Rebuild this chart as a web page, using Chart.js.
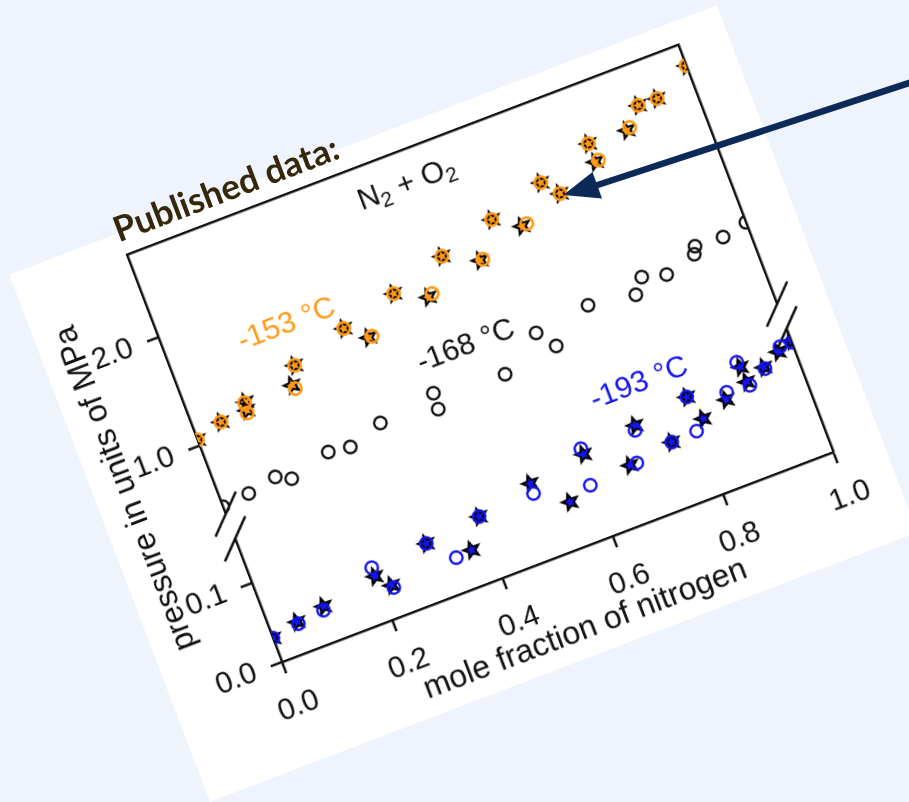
<!DOCTYPE html>
<html><head><meta charset="utf-8">
<script src="https://cdn.jsdelivr.net/npm/chart.js@4.4.1/dist/chart.umd.min.js"></script>
<style>
html,body{margin:0;padding:0;background:#eef3fc;width:909px;height:802px;overflow:hidden;}
#wrap{position:absolute;left:0;top:0;width:757px;height:564px;}
#paper{position:absolute;left:0;top:0;width:757px;height:564px;background:#fff;}
#c{position:absolute;left:0;top:0;width:757px;height:564px;}
#pub{position:absolute;left:0;top:0;overflow:visible;}
#arrow{position:absolute;left:0;top:0;}
</style></head><body>
<div id="wrap">
  <div id="paper"></div>
  <canvas id="c" width="757" height="564"></canvas>
  <svg id="pub" width="757" height="564"><text id="pubText" x="114" y="9" font-family="Lato" font-weight="700" font-size="35" fill="#35280a">Published data:</text></svg>
</div>
<svg id="arrow" width="909" height="802">
  <line x1="915" y1="81" x2="596" y2="185.5" stroke="#0b2a58" stroke-width="6.5"/>
  <polygon points="563.3,195 592.5,172 602,198.5" fill="#0b2a58"/>
</svg>
<script>
// ---------- data (mole fraction of N2, pressure in MPa) ----------
const xOrangeCircles = [0.000,0.048,0.097,0.095,0.199,0.186,0.299,0.339,0.399,0.460,0.498,0.561,0.599,0.652,0.699,0.723,0.798,0.804,0.873,0.900,0.934,1.000];
const pOrangeCircles = [1.055,1.127,1.210,1.118,1.357,1.168,1.503,1.354,1.631,1.513,1.783,1.634,1.926,1.786,2.073,1.926,2.241,2.077,2.244,2.396,2.393,2.570];
const xOrangeStars   = [0.000,0.048,0.099,0.096,0.199,0.183,0.299,0.333,0.399,0.452,0.498,0.556,0.599,0.643,0.699,0.723,0.798,0.798,0.867,0.900,0.934,1.000];
const pOrangeStars   = [1.055,1.127,1.213,1.141,1.357,1.204,1.503,1.354,1.631,1.496,1.783,1.633,1.926,1.780,2.073,1.926,2.241,2.072,2.230,2.396,2.393,2.570];
const xBlackCircles  = [0.000,0.049,0.101,0.126,0.200,0.238,0.300,0.402,0.400,0.527,0.601,0.625,0.700,0.782,0.802,0.843,0.899,0.905,0.955,1.000];
const pBlackCircles  = [0.439,0.466,0.518,0.453,0.556,0.529,0.630,0.707,0.564,0.640,0.877,0.711,0.941,0.879,1.003,0.947,1.026,1.088,1.076,1.125];
const xBlueCircles   = [0.000,0.049,0.097,0.199,0.222,0.300,0.339,0.400,0.500,0.595,0.602,0.699,0.682,0.750,0.801,0.796,0.867,0.901,0.908,0.942,0.979,1.000];
const pBlueCircles   = [0.0302,0.0355,0.0397,0.0665,0.0353,0.0703,0.0420,0.0778,0.0804,0.0656,0.1100,0.1075,0.0706,0.0790,0.1226,0.0807,0.1110,0.1400,0.1090,0.1210,0.1390,0.1390];
const xBlueStars     = [0.000,0.048,0.0995,0.199,0.220,0.300,0.368,0.400,0.501,0.553,0.603,0.702,0.670,0.750,0.801,0.814,0.862,0.904,0.905,0.941,0.973,1.000];
const pBlueStars     = [0.0302,0.0380,0.0441,0.0555,0.0386,0.0703,0.0439,0.0778,0.0928,0.0555,0.1027,0.1130,0.0709,0.0790,0.1226,0.0917,0.1030,0.1330,0.1140,0.1230,0.1340,0.1410];

const xTicks = [0.0,0.2,0.4,0.6,0.8,1.0];
const yTicksLow  = [0.0,0.1];
const yTicksHigh = [1.0,2.0];
const seriesLabels = ['-153 °C','-168 °C','-193 °C'];

// ---------- broken y axis: two linear segments on one pixel-like axis ----------
const LOW_SCALE = 845;          // axis units per MPa, lower segment (starts at 0)
const HIGH_AT_1 = 231.3;        // axis position of 1.0 MPa, upper segment
const HIGH_SCALE = 116.1;       // axis units per MPa, upper segment
const AXIS_TOP = 436;
const BREAK_LOW_TOP = 0.156;    // MPa where lower segment ends
const BREAK_HIGH_BOTTOM = 0.371;// MPa where upper segment starts
const toAxis = (p, seg) => seg === 'low' ? p * LOW_SCALE : HIGH_AT_1 + (p - 1) * HIGH_SCALE;

const ORANGE = '#ff9a17', BLUE = '#1515ee', INK = '#111';
const FONT = 'Liberation Sans';

function pts(xs, ps, seg){ return xs.map((x,i)=>({x, y: toAxis(ps[i], seg)})); }

function makeStar(fill){
  return new Promise(res=>{
    const k = 3, S = 22;
    const c = document.createElement('canvas'); c.width = S*k; c.height = S*k;
    const g = c.getContext('2d'); g.scale(k,k);
    const R = 8.4, r = 3.7, cx = S/2, cy = S/2;
    g.beginPath();
    for(let i=0;i<10;i++){
      const a = -Math.PI/2 + i*Math.PI/5, rr = i%2 ? r : R;
      const px = cx + rr*Math.cos(a), py = cy + rr*Math.sin(a);
      i ? g.lineTo(px,py) : g.moveTo(px,py);
    }
    g.closePath(); g.fillStyle = fill; g.fill();
    g.lineWidth = 2.1; g.strokeStyle = '#000'; g.lineJoin='miter'; g.stroke();
    const img = new Image(); img.width = S; img.height = S;
    img.onload = ()=>res(img); img.src = c.toDataURL();
  });
}

const breakPlugin = {
  id: 'breaks',
  beforeDatasetsDraw(chart){
    const {ctx, chartArea:{left,right}, scales:{y}} = chart;
    const yA = y.getPixelForValue(toAxis(BREAK_LOW_TOP,'low'));
    const yB = y.getPixelForValue(toAxis(BREAK_HIGH_BOTTOM,'high'));
    ctx.save();
    ctx.fillStyle = '#fff';
    [left,right].forEach(x=>ctx.fillRect(x-3, yB, 6, yA-yB));
    ctx.strokeStyle = INK; ctx.lineWidth = 2.5; ctx.lineCap='butt';
    [left,right].forEach(x=>[yA,yB].forEach(yy=>{
      ctx.beginPath(); ctx.moveTo(x-17.5, yy+17.5); ctx.lineTo(x+17.5, yy-17.5); ctx.stroke();
    }));
    ctx.restore();
  },
  afterDatasetsDraw(chart){
    const {ctx, scales:{x,y}} = chart;
    ctx.save();
    ctx.textAlign = 'center'; ctx.textBaseline = 'middle';
    ctx.font = `30px "${FONT}"`;
    const notes = [
      {t: seriesLabels[0], x:0.211, p:1.71,  seg:'high', c:ORANGE},
      {t: seriesLabels[1], x:0.482, p:0.986, seg:'high', c:INK},
      {t: seriesLabels[2], x:0.734, p:0.158, seg:'low',  c:BLUE}
    ];
    notes.forEach(n=>{ ctx.fillStyle = n.c; ctx.fillText(n.t, x.getPixelForValue(n.x), y.getPixelForValue(toAxis(n.p,n.seg))); });
    // N2 + O2 with subscripts
    const parts = [['N',30,0],['2',21,8],[' + O',30,0],['2',21,8]];
    let w = 0; parts.forEach(p=>{ ctx.font = `${p[1]}px "${FONT}"`; w += ctx.measureText(p[0]).width; });
    let cx = x.getPixelForValue(0.486) - w/2; const cy = y.getPixelForValue(toAxis(2.469,'high'));
    ctx.textAlign = 'left'; ctx.fillStyle = INK;
    parts.forEach(p=>{ ctx.font = `${p[1]}px "${FONT}"`; ctx.fillText(p[0], cx, cy + p[2]); cx += ctx.measureText(p[0]).width; });
    ctx.restore();
  }
};

Promise.all([makeStar(ORANGE), makeStar(BLUE)]).then(([starO, starB])=>{
  const yTickVals = [...yTicksLow.map(p=>toAxis(p,'low')), ...yTicksHigh.map(p=>toAxis(p,'high'))];
  const yTickLabels = [...yTicksLow, ...yTicksHigh].map(v=>v.toFixed(1));
  const tickFont = {family: FONT, size: 30};
  const titleFont = {family: FONT, size: 32};
  const chart = new Chart(document.getElementById('c'), {
    type: 'scatter',
    data: { datasets: [
      {label: seriesLabels[2]+' circles', data: pts(xBlueCircles,pBlueCircles,'low'), pointStyle:'circle', pointRadius:6.2, borderWidth:2.3, borderColor:BLUE, backgroundColor:'rgba(0,0,0,0)'},
      {label: seriesLabels[2]+' stars', data: pts(xBlueStars,pBlueStars,'low'), pointStyle:starB, pointRadius:8},
      {label: seriesLabels[1], data: pts(xBlackCircles,pBlackCircles,'high'), pointStyle:'circle', pointRadius:6.2, borderWidth:2.3, borderColor:INK, backgroundColor:'rgba(0,0,0,0)'},
      {label: seriesLabels[0]+' circles', data: pts(xOrangeCircles,pOrangeCircles,'high'), pointStyle:'circle', pointRadius:6.2, borderWidth:2.6, borderColor:ORANGE, backgroundColor:'rgba(0,0,0,0)'},
      {label: seriesLabels[0]+' stars', data: pts(xOrangeStars,pOrangeStars,'high'), pointStyle:starO, pointRadius:8}
    ]},
    options: {
      responsive:false, animation:false, devicePixelRatio:2,
      layout:{padding:{left:0, top:23, right:50, bottom:0}},
      plugins:{legend:{display:false}, tooltip:{enabled:false}},
      scales:{
        x:{type:'linear', position:'bottom', min:0, max:1,
           afterBuildTicks:s=>{ s.ticks = xTicks.map(v=>({value:v})); },
           ticks:{callback:v=>Number(v).toFixed(1), font:tickFont, color:INK, padding:17, maxRotation:0, autoSkip:false},
           grid:{drawOnChartArea:false, drawTicks:true, tickLength:12, tickWidth:2.5, tickColor:INK},
           border:{display:true, color:INK, width:2.5},
           title:{display:true, text:'mole fraction of nitrogen', font:titleFont, color:INK, padding:{top:0,bottom:8}},
           afterFit:s=>{ s.height = 105; s.paddingLeft = 0; s.paddingRight = 0; }},
        x2:{type:'linear', position:'top', min:0, max:1, ticks:{display:false},
           grid:{display:false, drawTicks:false}, border:{display:true, color:INK, width:2.5},
           afterFit:s=>{ s.height = 0; s.paddingLeft = 0; s.paddingRight = 0; }},
        y:{type:'linear', position:'left', min:0, max:AXIS_TOP,
           afterBuildTicks:s=>{ s.ticks = yTickVals.map(v=>({value:v})); },
           ticks:{callback:(v,i)=>yTickLabels[i], font:tickFont, color:INK, padding:16, autoSkip:false},
           grid:{drawOnChartArea:false, drawTicks:true, tickLength:12, tickWidth:2.5, tickColor:INK},
           border:{display:true, color:INK, width:2.5},
           title:{display:true, text:'pressure in units of MPa', font:titleFont, color:INK, padding:{top:14,bottom:0}},
           afterFit:s=>{ s.width = 117; s.paddingTop = 0; s.paddingBottom = 0; }},
        y2:{type:'linear', position:'right', min:0, max:AXIS_TOP, ticks:{display:false},
           grid:{display:false, drawTicks:false}, border:{display:true, color:INK, width:2.5},
           afterFit:s=>{ s.width = 0; s.paddingTop = 0; s.paddingBottom = 0; }}
      }
    },
    plugins:[breakPlugin]
  });
  const ca = chart.chartArea;
  const wrap = document.getElementById('wrap');
  wrap.style.transformOrigin = ca.left + 'px ' + ca.bottom + 'px';
  wrap.style.left = (281.7 - ca.left) + 'px';
  wrap.style.top = (661.7 - ca.bottom) + 'px';
  wrap.style.transform = 'rotate(-20.85deg)';
  const pub = document.getElementById('pubText');
  pub.setAttribute('x', ca.left - 3);
  pub.setAttribute('y', ca.bottom - 450);
});
</script>
</body></html>
